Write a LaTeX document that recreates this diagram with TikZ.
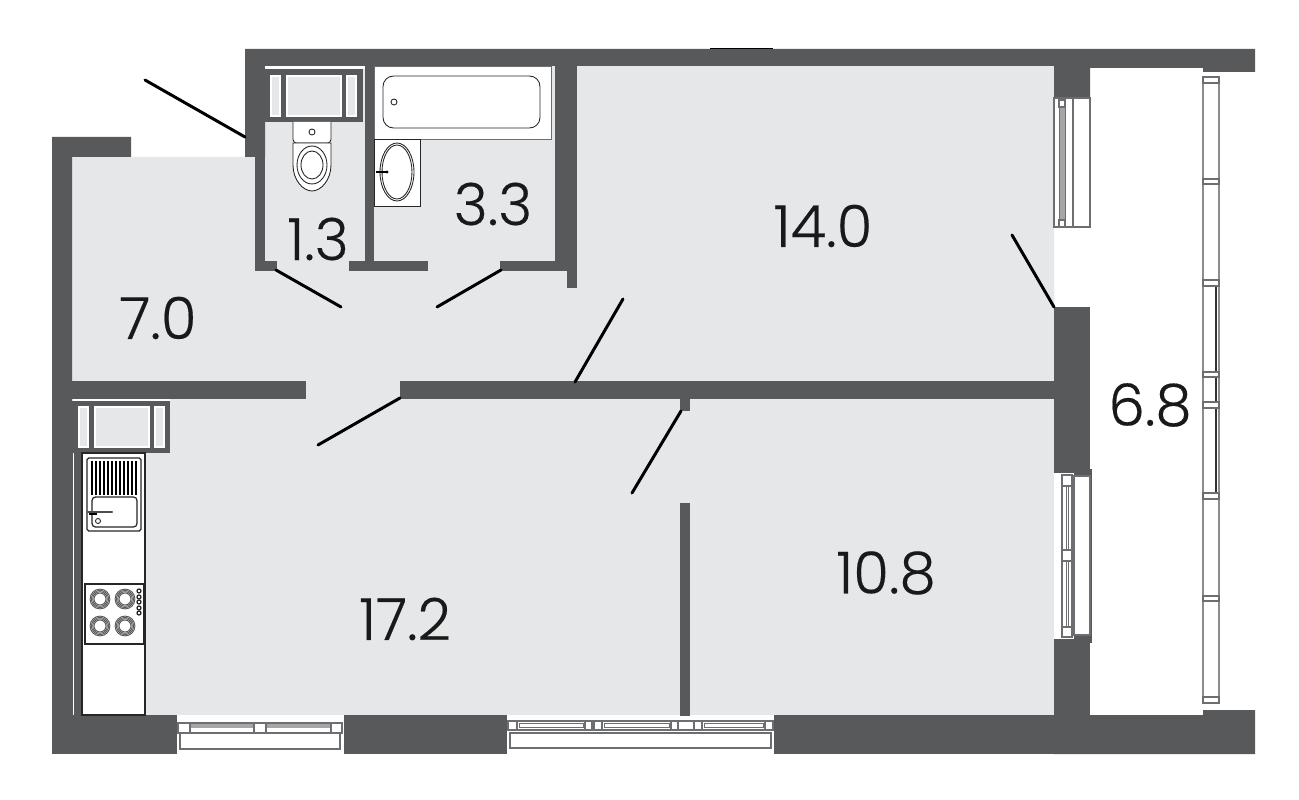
\documentclass[tikz,border=0pt]{standalone}
\usepackage{fontspec}
\setmainfont{Poppins}[UprightFont=* Light, UprightFeatures={FakeBold=0.3}]
\definecolor{wall}{HTML}{58595B}
\definecolor{floorc}{HTML}{E6E7E8}
\definecolor{edge}{HTML}{6D6E71}
\tikzset{
  wallfill/.style={fill=wall, draw=none},
  holefill/.style={fill=floorc, draw=white, line width=0.6pt},
  fixture/.style={fill=white, draw=black!85, line width=0.5pt},
  frame/.style={fill=white, draw=edge, line width=0.6pt},
  doorleaf/.style={draw=black, line width=1.7pt, line cap=round},
  area/.style={text=black!90, font=\fontsize{33}{33}\selectfont}
}
\begin{document}
\begin{tikzpicture}[x=0.02cm,y=-0.02cm]
  \useasboundingbox (0,0) rectangle (1299,800);
  \fill[white] (0,0) rectangle (1299,800);
  % floors
  \fill[floorc] (72,157) -- (255,157) -- (255,66) -- (1054,66) -- (1054,715) -- (72,715) -- cycle;
  % outer walls
  \fill[wallfill] (245,49) -- (1255,49) -- (1255,72) -- (1203,72) -- (1203,68) -- (1090,68) -- (1090,98) -- (1054,98) -- (1054,66) -- (265,66) -- (265,157) -- (245,157) -- cycle;
  \fill[wallfill] (52,137) -- (131,137) -- (131,157) -- (72,157) -- (72,715) -- (52,715) -- cycle;
  \fill[wallfill] (72,453) rectangle (82,715);
  \fill[wallfill] (52,715) rectangle (1090,754);
  \fill[wallfill] (1054,754) -- (1255,754) -- (1255,710) -- (1203,710) -- (1203,715) -- (1090,715) -- (1090,754) -- cycle;
  \fill[wallfill] (1054,307) rectangle (1090,473);
  \fill[wallfill] (1054,639) rectangle (1090,754);
  \draw[white, line width=0.4pt] (73,453) -- (73,715);
  \draw[black, line width=0.9pt] (710,48.6) -- (773,48.6);
  % inner walls
  \fill[wallfill] (72,381) rectangle (306,399);
  \fill[wallfill] (400,381) rectangle (1054,399);
  \fill[wallfill] (680,399) rectangle (690,411);
  \fill[wallfill] (680,503) rectangle (690,715);
  \fill[wallfill] (255,157) rectangle (265,271);
  \fill[wallfill] (255,261) rectangle (277,271);
  \fill[wallfill] (365,66) rectangle (374,271);
  \fill[wallfill] (349,261) rectangle (428,271);
  \fill[wallfill] (500,261) rectangle (567,271);
  \fill[wallfill] (555,66) rectangle (577,271);
  \fill[wallfill] (567,271) rectangle (577,288);
  % shafts
  \fill[white] (265,66) rectangle (365,69);
  \fill[wallfill] (265,69) rectangle (363,122);
  \foreach \xa/\xb in {271/280,287/341,347/356}
    \draw[holefill] (\xa,76) rectangle (\xb,116);
  \fill[white] (73,399) rectangle (170,401);
  \fill[wallfill] (72,401) rectangle (170,453);
  \foreach \xa/\xb in {79/88,95/149,155/164}
    \draw[holefill] (\xa,407) rectangle (\xb,447);
  % kitchen
  \draw[fixture, line width=0.7pt] (82,453) rectangle (145,715);
  \draw[fixture, line width=0.7pt, rounded corners=1pt] (87,458) rectangle (141,531);
  \foreach \x in {92,96,...,136}
    \draw[black, line width=0.6pt] (\x,461) -- (\x,495);
  \draw[fixture, line width=0.7pt, rounded corners=2pt] (92,497) rectangle (137,527);
  \draw[black!70, line width=1.2pt, line cap=round] (88,512) -- (112,512);
  \draw[black, line width=1.3pt] (89,514) -- (97,514);
  \draw[fixture] (98,521) circle (2.5);
  \draw[fixture, line width=0.7pt] (85,584) rectangle (144,644);
  \foreach \cx/\cy in {100/599,125/599,100/626,125/626}
    \foreach \r in {6,7.3,8.6,9.9}
      \draw[draw=wall, line width=0.55pt] (\cx,\cy) circle (\r);
  \foreach \ky in {591,597,602,608,613}
    \draw[fixture, line width=0.7pt] (139,\ky) circle (2);
  % bathroom
  \draw[fixture, draw=edge] (374,66) -- (551,66) -- (551,139) -- (374,139) -- cycle;
  \draw[fixture, rounded corners=6pt] (383,76) rectangle (540,128);
  \draw[fixture] (394,102) circle (3);
  \draw[fixture] (374,139) rectangle (420,206);
  \draw[fixture] (397,172) ellipse (17 and 29);
  \draw[fixture] (397,172) ellipse (15 and 27);
  \draw[black, line width=1.3pt] (376,172) -- (387,172);
  \fill[black] (387,172) circle (1.7);
  % toilet
  \draw[fixture, rounded corners=2pt] (293,122) -- (293,143) -- (331,143) -- (331,122);
  \draw[fixture] (293,143) -- (293,165) .. controls (293,180) and (303,191) .. (312,191) .. controls (321,191) and (331,180) .. (331,165) -- (331,143) -- cycle;
  \draw[fixture] (312,165) ellipse (15 and 19);
  \draw[fixture] (312,165) ellipse (11 and 14);
  \draw[fixture] (312,132) circle (3);
  % windows
  \draw[frame] (1054,98) rectangle (1090,227);
  \draw[edge, line width=0.6pt] (1073,98) -- (1073,227);
  \fill[black!35] (1059,106) rectangle (1065,220);
  \draw[edge, line width=0.5pt] (1059,106) rectangle (1065,220);
  \draw[frame] (1059,100) rectangle (1065,107);
  \draw[frame] (1059,220) rectangle (1065,227);
  \fill[white] (1054,473) rectangle (1090,639);
  \fill[wallfill] (1074,473) rectangle (1091.5,476);
  \fill[wallfill] (1074,635) rectangle (1091.5,639);
  \fill[wallfill] (1090,469) rectangle (1091.5,643);
  \draw[frame] (1074,476) rectangle (1090,635);
  \draw[frame] (1062,475) rectangle (1072,637);
  \foreach \x in {1066,1068}
    \draw[edge, line width=0.4pt] (\x,486) -- (\x,627);
  \foreach \ya/\yb in {475/486,550/561,627/637}
    \draw[frame] (1062,\ya) rectangle (1072,\yb);
  % south windows
  \fill[white] (177,715) rectangle (344,754);
  \draw[frame, line width=0.9pt] (180,733) rectangle (340,749);
  \draw[frame] (178,723) rectangle (342,733);
  \fill[black!35] (190,724) rectangle (331,728);
  \foreach \xa/\xb in {178/190,254/266,331/342}
    \draw[frame] (\xa,723) rectangle (\xb,733);
  \fill[white] (507,715) rectangle (774,754);
  \draw[frame, line width=0.9pt] (510,733) rectangle (771,748);
  \draw[frame] (508,721) rectangle (773,730);
  \foreach \xa/\xb in {508/517,585/592,594/602,671/678,694/702,765/773}
    \draw[frame] (\xa,721) rectangle (\xb,730);
  \foreach \xa/\xb in {519/583,604/669,704/763}
    \draw[edge, line width=0.4pt] (\xa,723.5) rectangle (\xb,727.5);
  \fill[wallfill] (680,715) rectangle (690,716);
  % balcony glazing
  \draw[frame, draw=black!45, line width=0.9pt] (1203,77) rectangle (1219,703);
  \draw[black!80, line width=0.7pt] (1216,286) -- (1216,493);
  \foreach \ya/\yb in {77/83,179/184,280/286,372/377,402/408,493/499,596/601,697/703}
    \draw[frame] (1203,\ya) rectangle (1219,\yb);
  % door leaves
  \coordinate (entryA) at (245,137);
  \coordinate (entryB) at (145,80);
  \draw[doorleaf] (entryA) -- (entryB);
  \draw[doorleaf] (276,270) -- (341,307);
  \draw[doorleaf] (501,270) -- (437,307);
  \draw[doorleaf] (575,382) -- (623,299);
  \draw[doorleaf] (400,398) -- (318,445);
  \draw[doorleaf] (681,411) -- (632,493);
  \draw[doorleaf] (1054,307) -- (1012,235);
  % areas
  \node[area] (roomA) at (318,239) {1.3};
  \node[area] (roomB) at (493,204) {3.3};
  \node[area] (roomC) at (823,226) {14.0};
  \node[area] (roomD) at (158,318) {7.0};
  \node[area] (roomE) at (405,619) {17.2};
  \node[area] (roomF) at (886,573) {10.8};
  \node[area] (roomG) at (1150,405) {6.8};
\end{tikzpicture}
\end{document}
